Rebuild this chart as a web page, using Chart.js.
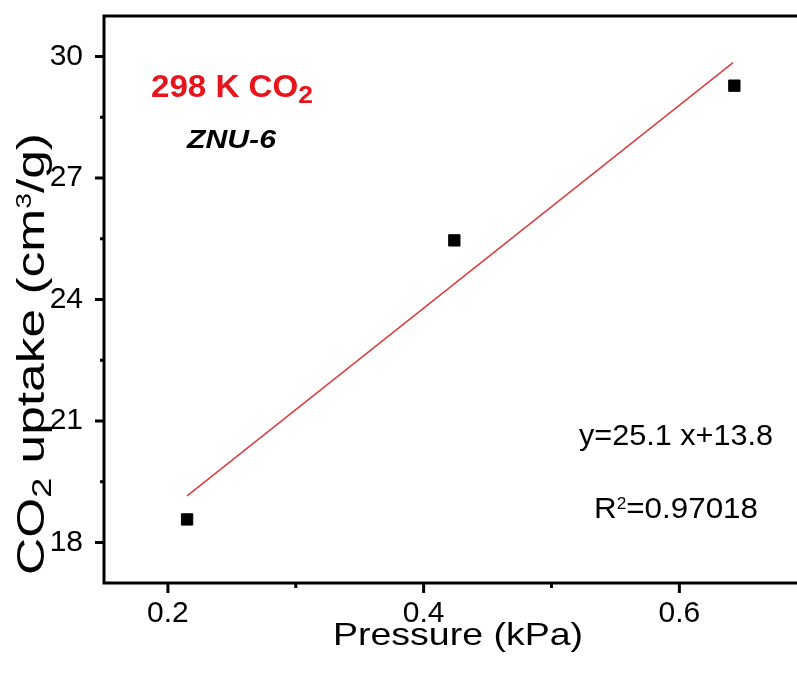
<!DOCTYPE html>
<html>
<head>
<meta charset="utf-8">
<script src="https://cdn.jsdelivr.net/npm/chart.js@4.4.1/dist/chart.umd.min.js"></script>
<style>
  html, body { margin: 0; padding: 0; background: #fff; }
  canvas { display: block; }
</style>
</head>
<body>
<canvas id="uptake-chart" width="797" height="675"></canvas>
<script>
// Data
const pressure = [0.215, 0.424, 0.643];
const uptake = [18.57, 25.46, 29.28];
const fitPressure = [0.215, 0.642];
const fitUptake = [19.15, 29.85];

const xTicks = [0.2, 0.4, 0.6];
const xMinor = [0.3, 0.5];
const yTicks = [18, 21, 24, 27, 30];
const yMinor = [19.5, 22.5, 25.5, 28.5];

const FONT = "'Liberation Sans', Arial, Helvetica, sans-serif";

// draws text made of parts (normal / sub / sup), stretched to a given width
const drawRich = (ctx, parts, x, y, size, style, color, width, angle) => {
  const fontFor = (p) => `${style} ${p.sub || p.sup ? size * p.scale : size}px ${FONT}`;
  let natural = 0;
  parts.forEach(p => {
    ctx.font = fontFor(p);
    natural += ctx.measureText(p.t).width;
  });
  ctx.save();
  ctx.translate(x, y);
  if (angle) ctx.rotate(angle);
  ctx.scale(width ? width / natural : 1, 1);
  ctx.fillStyle = color;
  ctx.textBaseline = "alphabetic";
  ctx.textAlign = "left";
  let cx = 0;
  parts.forEach(p => {
    ctx.font = fontFor(p);
    let dy = 0;
    if (p.sub) dy = p.shift;
    if (p.sup) dy = -p.shift;
    ctx.fillText(p.t, cx, dy);
    cx += ctx.measureText(p.t).width;
  });
  ctx.restore();
};

const frameAndText = {
  id: "frameAndText",
  afterDraw(chart) {
    const { ctx, chartArea: a, scales: { x, y } } = chart;
    ctx.save();
    ctx.strokeStyle = "#000";
    ctx.lineCap = "butt";

    // axis lines and top border
    ctx.lineWidth = 3;
    ctx.beginPath();
    ctx.moveTo(a.left, a.top);
    ctx.lineTo(a.left, a.bottom + 1.5);
    ctx.moveTo(a.left - 1.5, a.bottom);
    ctx.lineTo(a.right, a.bottom);
    ctx.moveTo(a.left - 1.5, a.top);
    ctx.lineTo(a.right, a.top);
    ctx.stroke();

    // tick marks
    ctx.beginPath();
    xTicks.forEach(v => { const px = x.getPixelForValue(v); ctx.moveTo(px, a.bottom); ctx.lineTo(px, a.bottom + 10); });
    xMinor.forEach(v => { const px = x.getPixelForValue(v); ctx.moveTo(px, a.bottom); ctx.lineTo(px, a.bottom + 5); });
    yTicks.forEach(v => { const py = y.getPixelForValue(v); ctx.moveTo(a.left, py); ctx.lineTo(a.left - 9, py); });
    yMinor.forEach(v => { const py = y.getPixelForValue(v); ctx.moveTo(a.left, py); ctx.lineTo(a.left - 4, py); });
    ctx.stroke();
    ctx.restore();

    // axis titles
    drawRich(ctx, [{ t: "Pressure (kPa)" }], 333, 645, 32, "normal", "#000", 250);
    drawRich(ctx, [
      { t: "CO" },
      { t: "2", sub: true, scale: 0.7, shift: 7 },
      { t: " uptake (cm" },
      { t: "3", sup: true, scale: 0.55, shift: 13 },
      { t: "/g)" }
    ], 43.5, 575, 39, "normal", "#000", 442, -Math.PI / 2);

    // annotations
    drawRich(ctx, [{ t: "298 K CO" }, { t: "2", sub: true, scale: 0.8, shift: 6 }],
      151, 97, 31, "bold", "#e8141b", 162);
    drawRich(ctx, [{ t: "ZNU-6" }], 187, 148, 26, "italic bold", "#000", 89);
    drawRich(ctx, [{ t: "y=25.1 x+13.8" }], 579, 445, 30, "normal", "#000", 194);
    drawRich(ctx, [{ t: "R" }, { t: "2", sup: true, scale: 0.55, shift: 9 }, { t: "=0.97018" }],
      594, 518, 30, "normal", "#000", 164);
  }
};

const ctx = document.getElementById("uptake-chart").getContext("2d");
new Chart(ctx, {
  type: "scatter",
  data: {
    datasets: [
      {
        label: "ZNU-6",
        data: pressure.map((p, i) => ({ x: p, y: uptake[i] })),
        pointStyle: "rect",
        pointRadius: 8,
        backgroundColor: "#000",
        borderColor: "#000",
        borderWidth: 1,
        showLine: false
      },
      {
        label: "Linear fit",
        data: fitPressure.map((p, i) => ({ x: p, y: fitUptake[i] })),
        showLine: true,
        borderColor: "#dc3c3e",
        borderWidth: 1.5,
        pointRadius: 0
      }
    ]
  },
  options: {
    responsive: false,
    animation: false,
    layout: { autoPadding: false, padding: { top: 16, right: 0, left: 0, bottom: 0 } },
    plugins: { legend: { display: false }, tooltip: { enabled: false } },
    scales: {
      x: {
        type: "linear",
        min: 0.15,
        max: 0.692,
        afterBuildTicks: s => { s.ticks = xTicks.map(v => ({ value: v })); },
        afterFit: s => {
          s.height = 92;
          s.paddingLeft = 0; s.paddingRight = 0;
        },
        grid: { display: false },
        border: { display: false },
        ticks: {
          color: "#000",
          font: { family: FONT, size: 30 },
          padding: 5,
          maxRotation: 0,
          callback: v => v.toFixed(1)
        }
      },
      y: {
        type: "linear",
        min: 17,
        max: 31,
        afterBuildTicks: s => { s.ticks = yTicks.map(v => ({ value: v })); },
        afterFit: s => {
          s.width = 104;
          s.paddingTop = 0; s.paddingBottom = 0;
        },
        grid: { display: false },
        border: { display: false },
        ticks: {
          color: "#000",
          font: { family: FONT, size: 30 },
          padding: 13,
          callback: v => String(v)
        }
      }
    }
  },
  plugins: [frameAndText]
});
</script>
</body>
</html>
